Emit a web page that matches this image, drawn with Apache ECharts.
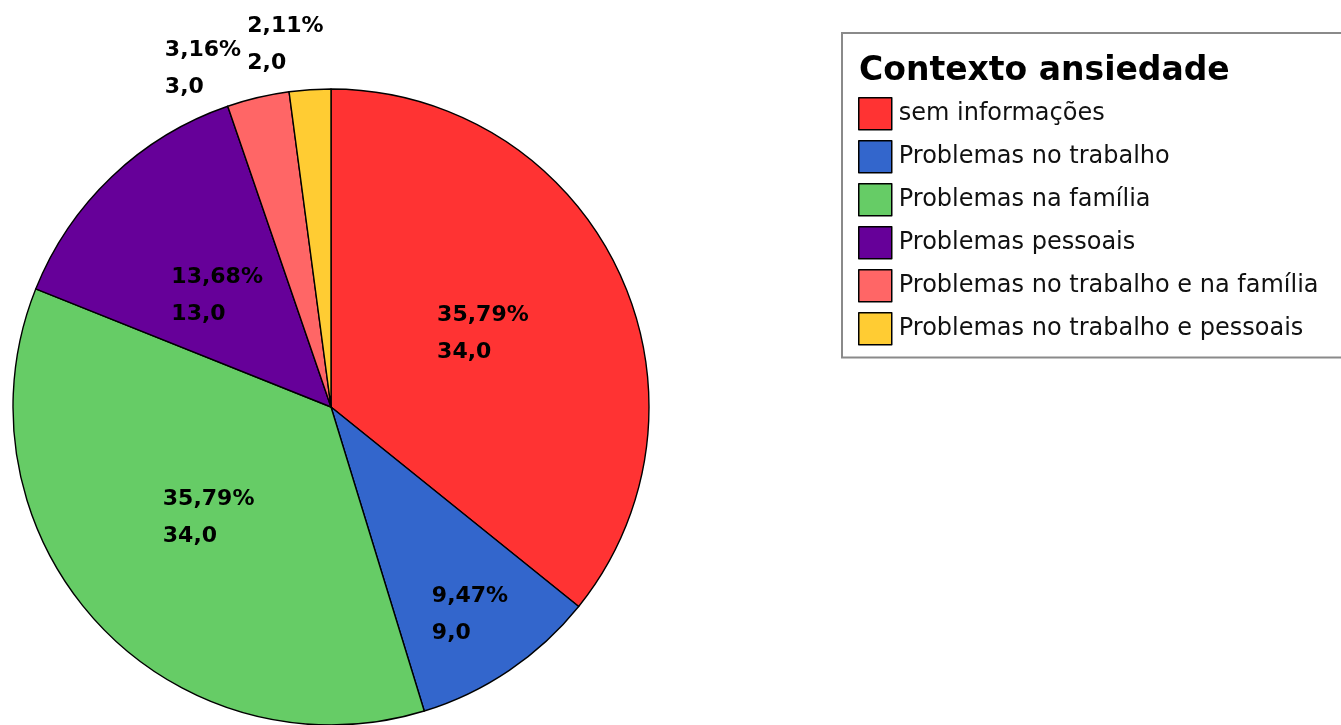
<!DOCTYPE html>
<html>
<head>
<meta charset="utf-8">
<script src="https://cdn.jsdelivr.net/npm/echarts@6/dist/echarts.min.js"></script>
<style>
html,body{margin:0;padding:0;background:#fff;}
#chart{width:1341px;height:725px;}
</style>
</head>
<body>
<div id="chart"></div>
<script>
const categories = ['sem informações','Problemas no trabalho','Problemas na família','Problemas pessoais','Problemas no trabalho e na família','Problemas no trabalho e pessoais'];
const counts = [34, 9, 34, 13, 3, 2];
const percentLabels = ['35,79%','9,47%','35,79%','13,68%','3,16%','2,11%'];
const countLabels = ['34,0','9,0','34,0','13,0','3,0','2,0'];
const colors = ['#ff3333','#3366cc','#66cc66','#660099','#ff6666','#ffcc33'];
// label nudges (styling offsets from the default inside position)
const labelShift = [[-40,-3],[10,74],[-49,1],[-48,6],[-129,-181],[-73,-201]];

const chart = echarts.init(document.getElementById('chart'));
chart.setOption({
  animation:false,
  title:{
    text:'Contexto ansiedade',
    left:855, top:55, padding:[0,0,0,4],
    textStyle:{fontFamily:'DejaVu Sans',fontWeight:'bold',fontSize:33,color:'#000'}
  },
  legend:{
    orient:'vertical',
    left:842, top:33,
    padding:[64,26,12,16],
    borderColor:'#8a8a8a', borderWidth:2,
    itemWidth:33, itemHeight:32, itemGap:9.5,
    icon:'rect',
    itemStyle:{borderColor:'#000',borderWidth:1.5},
    textStyle:{fontFamily:'DejaVu Sans',fontSize:24,color:'#111',padding:[0,0,0,2]},
    data:categories
  },
  series:[{
    type:'pie',
    center:[331,407],
    radius:318,
    startAngle:90,
    clockwise:true,
    avoidLabelOverlap:false,
    itemStyle:{borderColor:'#000',borderWidth:1.4},
    emphasis:{disabled:true},
    label:{
      position:'inside',
      formatter:p => percentLabels[p.dataIndex] + '\n' + countLabels[p.dataIndex],
      fontFamily:'DejaVu Sans', fontWeight:'bold', fontSize:22, lineHeight:37,
      color:'#000', align:'left'
    },
    labelLine:{show:false},
    labelLayout:p => ({dx:labelShift[p.dataIndex][0], dy:labelShift[p.dataIndex][1], align:'left'}),
    data:categories.map((c,i)=>({name:c,value:counts[i],itemStyle:{color:colors[i]}}))
  }]
});
</script>
</body>
</html>
